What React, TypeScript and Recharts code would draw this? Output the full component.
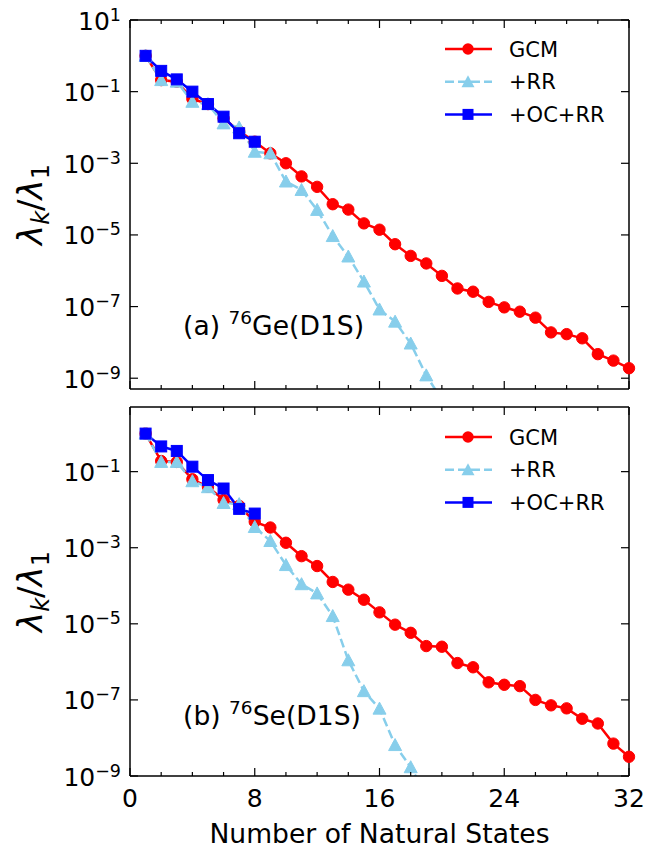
import { LineChart, Line, XAxis, YAxis } from 'recharts'

const FONT = 'DejaVu Sans'
const RED = '#ff0000'
const SKY = '#87ceeb'
const BLUE = '#0000ff'

const states = [1, 2, 3, 4, 5, 6, 7, 8, 9, 10, 11, 12, 13, 14, 15, 16, 17, 18, 19, 20, 21, 22, 23, 24, 25, 26, 27, 28, 29, 30, 31, 32]

// (a) 76Ge(D1S)
const gcmGe = [1.0, 2.1e-1, 1.9e-1, 6.3e-2, 4.5e-2, 1.8e-2, 7.9e-3, 4.0e-3, 1.9e-3, 1.0e-3, 4.3e-4, 2.2e-4, 7.2e-5, 5.1e-5, 2.1e-5, 1.4e-5,
  5.5e-6, 2.6e-6, 1.6e-6, 7.2e-7, 3.2e-7, 2.6e-7, 1.35e-7, 9.5e-8, 7.2e-8, 4.9e-8, 1.9e-8, 1.7e-8, 1.3e-8, 4.7e-9, 3.1e-9, 1.9e-9]
const rrGe = [1.0, 2.1e-1, 1.9e-1, 5.2e-2, 4.5e-2, 1.3e-2, 1.0e-2, 2.1e-3, 1.9e-3, 3.1e-4, 1.8e-4, 5.0e-5, 9.3e-6, 2.5e-6, 5.0e-7, 8.3e-8,
  3.8e-8, 9.3e-9, 1.2e-9, 2.5e-10]
const ocGe = [1.0, 3.8e-1, 2.2e-1, 1.0e-1, 4.5e-2, 2.0e-2, 6.9e-3, 4.0e-3]

// (b) 76Se(D1S)
const gcmSe = [1.0, 1.9e-1, 1.8e-1, 6.3e-2, 4.0e-2, 1.8e-2, 1.26e-2, 4.8e-3, 3.4e-3, 1.35e-3, 6.0e-4, 3.3e-4, 1.26e-4, 7.9e-5, 4.3e-5, 2.0e-5,
  9.5e-6, 5.8e-6, 2.6e-6, 2.5e-6, 9.3e-7, 7.2e-7, 2.9e-7, 2.5e-7, 2.3e-7, 1.0e-7, 7.2e-8, 6.0e-8, 3.2e-8, 2.4e-8, 7.1e-9, 3.2e-9]
const rrSe = [1.0, 1.8e-1, 1.8e-1, 5.6e-2, 3.9e-2, 1.5e-2, 1.4e-2, 3.5e-3, 1.5e-3, 3.5e-4, 1.1e-4, 6.3e-5, 1.6e-5, 1.1e-6, 1.7e-7, 5.9e-8,
  6.5e-9, 1.7e-9, 3.2e-10]
const ocSe = [1.0, 4.6e-1, 3.5e-1, 1.35e-1, 6.0e-2, 3.6e-2, 1.05e-2, 7.9e-3]

const xTicks = [0, 2, 4, 6, 8, 10, 12, 14, 16, 18, 20, 22, 24, 26, 28, 30, 32]
const topYTicks = [10, 1e-1, 1e-3, 1e-5, 1e-7, 1e-9]
const botYTicks = [1e-1, 1e-3, 1e-5, 1e-7, 1e-9]

const buildRows = (gcm: number[], rr: number[], oc: number[]) =>
  states.map((k, i) => ({ k, gcm: gcm[i], rr: rr[i], oc: oc[i] }))

const geRows = buildRows(gcmGe, rrGe, ocGe)
const seRows = buildRows(gcmSe, rrSe, ocSe)

const expOf = (v: number) => {
  const e = Math.round(Math.log10(v))
  return e < 0 ? '\u2212' + Math.abs(e) : String(e)
}

const XTick = ({ x, y, payload, side, label }: any) => {
  const major = payload.value % 8 === 0
  const len = major ? 8 : 4
  const dir = side === 'bottom' ? -1 : 1
  return (
    <g>
      <line x1={x} x2={x} y1={y} y2={y + dir * len} stroke="#000" strokeWidth={1.2} />
      {label && major && (
        <text x={x} y={y + 30.5} textAnchor="middle" fontSize={25} fontFamily={FONT} fill="#000">
          {payload.value}
        </text>
      )}
    </g>
  )
}

const YTick = ({ x, y, payload, side }: any) => {
  const dir = side === 'right' ? -1 : 1
  return (
    <g>
      <line x1={x} x2={x + dir * 8} y1={y} y2={y} stroke="#000" strokeWidth={1.2} />
      {side === 'left' && (
        <text x={x - 9} y={y + 9.5} textAnchor="end" fontSize={25} fontFamily={FONT} fill="#000">
          10<tspan dy={-9} fontSize={17.5}>{expOf(payload.value)}</tspan>
        </text>
      )}
    </g>
  )
}

const YLabel = ({ viewBox }: any) => {
  const cx = 42
  const cy = viewBox.y + viewBox.height / 2
  return (
    <text transform={`translate(${cx},${cy}) rotate(-90)`} textAnchor="middle" fontSize={34} fontFamily={FONT} fill="#000">
      <tspan fontStyle="italic">λ</tspan>
      <tspan fontStyle="italic" fontSize={24} dy={7}>k</tspan>
      <tspan dy={-7}>/</tspan>
      <tspan fontStyle="italic">λ</tspan>
      <tspan fontSize={24} dy={7}>1</tspan>
    </text>
  )
}

const XLabel = ({ viewBox }: any) => (
  <text x={viewBox.x + viewBox.width / 2} y={viewBox.y + 67} textAnchor="middle" fontSize={26.6} fontFamily={FONT} fill="#000">
    Number of Natural States
  </text>
)

const circleDot = (p: any) =>
  p.cy == null ? <g key={p.index} /> : <circle key={p.index} cx={p.cx} cy={p.cy} r={5.7} fill={RED} stroke={RED} />

const triDot = (p: any) =>
  p.cy == null ? <g key={p.index} /> : (
    <polygon key={p.index} points={`${p.cx},${p.cy - 6.5} ${p.cx - 6.5},${p.cy + 5.5} ${p.cx + 6.5},${p.cy + 5.5}`} fill={SKY} stroke={SKY} />
  )

const squareDot = (p: any) =>
  p.cy == null ? <g key={p.index} /> : <rect key={p.index} x={p.cx - 5.5} y={p.cy - 5.5} width={11} height={11} fill={BLUE} stroke={BLUE} />

interface PanelProps {
  rows: any[]
  domain: [number, number]
  yTicks: number[]
  height: number
  topH: number
  bottomH: number
  showX: boolean
}

function Panel({ rows, domain, yTicks, height, topH, bottomH, showX }: PanelProps) {
  const axisLine = { stroke: '#000', strokeWidth: 1.5 }
  return (
    <LineChart width={646} height={height} data={rows} margin={{ top: 0, right: 0, bottom: 0, left: 0 }}>
      <XAxis dataKey="k" type="number" domain={[0, 32]} ticks={xTicks} interval={0} height={bottomH}
        tickSize={0} tickMargin={0} tickLine={false} axisLine={axisLine}
        tick={<XTick side="bottom" label={showX} />} label={showX ? <XLabel /> : undefined} />
      <XAxis xAxisId="top" orientation="top" dataKey="k" type="number" domain={[0, 32]} ticks={xTicks} interval={0}
        height={topH} tickSize={0} tickMargin={0} tickLine={false} axisLine={axisLine} tick={<XTick side="top" />} />
      <YAxis scale="log" type="number" domain={domain} allowDataOverflow ticks={yTicks} interval={0} width={130}
        tickSize={0} tickMargin={0} tickLine={false} axisLine={axisLine} tick={<YTick side="left" />} label={<YLabel />} />
      <YAxis yAxisId="right" orientation="right" scale="log" type="number" domain={domain} allowDataOverflow ticks={yTicks}
        interval={0} width={17} tickSize={0} tickMargin={0} tickLine={false} axisLine={axisLine} tick={<YTick side="right" />} />
      <Line dataKey="gcm" stroke={RED} strokeWidth={2.5} dot={circleDot} activeDot={false} isAnimationActive={false} />
      <Line dataKey="rr" stroke={SKY} strokeWidth={2.5} strokeDasharray="9 4" dot={triDot} activeDot={false} isAnimationActive={false} />
      <Line dataKey="oc" stroke={BLUE} strokeWidth={2.5} dot={squareDot} activeDot={false} isAnimationActive={false} />
    </LineChart>
  )
}

const legendItems = [
  { name: 'GCM', color: RED, dash: undefined, marker: 'circle' },
  { name: '+RR', color: SKY, dash: '9 4', marker: 'tri' },
  { name: '+OC+RR', color: BLUE, dash: undefined, marker: 'square' },
]

function LegendBox({ top }: { top: number }) {
  return (
    <g>
      {legendItems.map((it, i) => {
        const y = top + i * 32.7
        const mx = 468
        return (
          <g key={it.name}>
            <line x1={445} x2={492} y1={y} y2={y} stroke={it.color} strokeWidth={2.5} strokeDasharray={it.dash} />
            {it.marker === 'circle' && <circle cx={mx} cy={y} r={5.7} fill={it.color} />}
            {it.marker === 'tri' && <polygon points={`${mx},${y - 6.5} ${mx - 6.5},${y + 5.5} ${mx + 6.5},${y + 5.5}`} fill={it.color} />}
            {it.marker === 'square' && <rect x={mx - 5.5} y={y - 5.5} width={11} height={11} fill={it.color} />}
            <text x={509} y={y + 7.5} fontSize={21} fontFamily={FONT} fill="#000">{it.name}</text>
          </g>
        )
      })}
    </g>
  )
}

export default function App() {
  return (
    <div style={{ position: 'absolute', left: 0, top: 0, width: 646, height: 855, background: '#fff' }}>
      <div style={{ position: 'absolute', left: 0, top: 0 }}>
        <Panel rows={geRows} domain={[5e-10, 10]} yTicks={topYTicks} height={396} topH={20} bottomH={7} showX={false} />
      </div>
      <div style={{ position: 'absolute', left: 0, top: 396 }}>
        <Panel rows={seRows} domain={[1e-9, 5]} yTicks={botYTicks} height={459} topH={11} bottomH={79} showX={true} />
      </div>
      <svg width={646} height={855} style={{ position: 'absolute', left: 0, top: 0, pointerEvents: 'none' }}>
        <LegendBox top={49} />
        <LegendBox top={437} />
        <text x={183} y={335} fontSize={26.6} fontFamily={FONT} fill="#000">
          (a) <tspan dy={-11} fontSize={18.5}>76</tspan><tspan dy={11}>Ge(D1S)</tspan>
        </text>
        <text x={183} y={725} fontSize={26.6} fontFamily={FONT} fill="#000">
          (b) <tspan dy={-11} fontSize={18.5}>76</tspan><tspan dy={11}>Se(D1S)</tspan>
        </text>
      </svg>
    </div>
  )
}
